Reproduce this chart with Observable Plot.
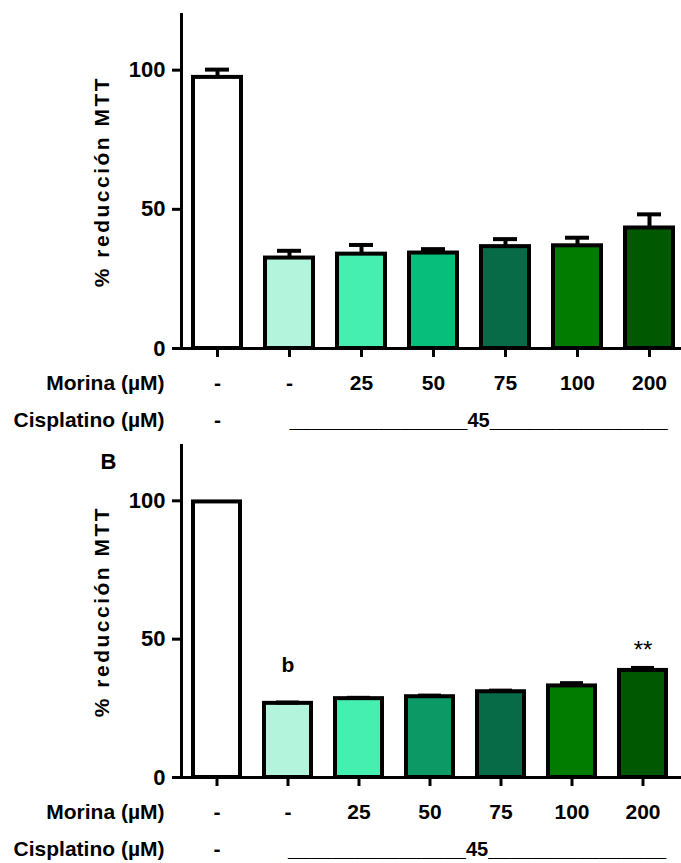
<!DOCTYPE html>
<html>
<head>
<meta charset="utf-8">
<script src="https://cdn.jsdelivr.net/npm/d3@7"></script>
<script src="https://cdn.jsdelivr.net/npm/@observablehq/plot@0.6"></script>
<style>
  html, body { margin: 0; padding: 0; background: #fff; }
  #chart { width: 681px; }
  #chart svg { display: block; }
</style>
</head>
<body>
<div id="chart"></div>
<script>
// ---- data ----
const groups = ["ctrl", "cis", "m25", "m50", "m75", "m100", "m200"];
const morinaLabels = ["-", "-", "25", "50", "75", "100", "200"];
const cisplatinoControl = "-";
const cisplatinoDose = "________________45________________";
const yTicks = [0, 50, 100];
const yTitle = "% reducción MTT";
const rowLabelMorina = "Morina (µM)";
const rowLabelCis = "Cisplatino (µM)";

const meansA = [97.4, 32.5, 33.9, 34.3, 36.6, 36.9, 43.3];
const errsA  = [2.8, 2.6, 3.3, 1.4, 2.7, 2.9, 4.9];
const colorsA = ["#ffffff", "#b3f5dc", "#44efb0", "#07bf7b", "#066b46", "#017c01", "#005800"];

const meansB = [99.6, 26.8, 28.5, 29.2, 31.0, 33.1, 38.7];
const errsB  = [0, 0.3, 0.3, 0.4, 0.4, 1.0, 0.9];
const colorsB = ["#ffffff", "#b3f5dc", "#44efb0", "#0d9966", "#066b46", "#017c01", "#005800"];

const FONT = "'Liberation Sans', Arial, Helvetica, sans-serif";

function panel({means, errs, colors, height, marginTop, marginBottom, xEnd, letter, annotations}) {
  const data = groups.map((g, i) => ({key: g, mean: means[i], err: errs[i], color: colors[i], morina: morinaLabels[i]}));
  const marks = [
    Plot.frame({anchor: "left", strokeWidth: 3, stroke: "black"}),
    Plot.ruleY([0], {strokeWidth: 3, insetLeft: -9}),
    Plot.axisY({ticks: yTicks, tickSize: 9, tickPadding: 7, strokeWidth: 3, fontSize: 22, fontWeight: "bold", label: null}),
    Plot.axisX({tickSize: 9, strokeWidth: 3, tickFormat: () => "", label: null}),
    Plot.barY(data, {x: "key", y: "mean", fill: "color", stroke: "black", strokeWidth: 4}),
    Plot.ruleX(data.filter(d => d.err > 0), {x: "key", y1: "mean", y2: d => d.mean + d.err, strokeWidth: 4}),
    Plot.tickY(data.filter(d => d.err > 0), {x: "key", y: d => d.mean + d.err, strokeWidth: 4, inset: 12}),
    Plot.text([yTitle], {frameAnchor: "left", dx: -79, rotate: -90, fontSize: 21, fontWeight: "bold", lineAnchor: "middle", textAnchor: "middle"}),
    Plot.text(data, {x: "key", text: "morina", frameAnchor: "bottom", dy: 35, fontSize: 21, fontWeight: "bold", lineAnchor: "middle"}),
    Plot.text([rowLabelMorina], {frameAnchor: "bottom-left", dx: -17, dy: 35, textAnchor: "end", fontSize: 21, fontWeight: "bold", lineAnchor: "middle"}),
    Plot.text([rowLabelCis], {frameAnchor: "bottom-left", dx: -17, dy: 72, textAnchor: "end", fontSize: 21, fontWeight: "bold", lineAnchor: "middle"}),
    Plot.text([groups[0]], {x: d => d, text: () => cisplatinoControl, frameAnchor: "bottom", dy: 72, fontSize: 21, fontWeight: "bold", lineAnchor: "middle"}),
    Plot.text([groups[1]], {x: d => d, text: () => cisplatinoDose, frameAnchor: "bottom", dy: 72, textAnchor: "start", fontSize: 20, fontWeight: "bold", lineAnchor: "middle"})
  ];
  if (letter) {
    marks.push(Plot.text([letter], {frameAnchor: "top-left", dx: -81, dy: 16, fontSize: 22, fontWeight: "bold", lineAnchor: "middle"}));
  }
  for (const a of (annotations || [])) {
    const d = data[groups.indexOf(a.key)];
    marks.push(Plot.text([d], {x: "key", y: v => v.mean + v.err, text: () => a.text, dy: a.dy, fontSize: a.size, fontWeight: a.weight, lineAnchor: "middle"}));
  }
  const svg = Plot.plot({
    width: 681,
    height,
    marginLeft: 181,
    marginRight: 0,
    marginTop,
    marginBottom,
    style: {fontFamily: FONT, color: "black", background: "white", overflow: "visible"},
    x: {domain: groups, range: [181, xEnd], paddingInner: 0.34, paddingOuter: 0.17, axis: null},
    y: {domain: [0, 120], axis: null},
    marks
  });
  d3.select(svg).selectAll("text").filter(function() { return this.textContent === yTitle; })
    .attr("letter-spacing", "2.5px");
  return svg;
}

const chart = document.getElementById("chart");
chart.appendChild(panel({means: meansA, errs: errsA, colors: colorsA, height: 432, marginTop: 14, marginBottom: 84, xEnd: 685}));
chart.appendChild(panel({means: meansB, errs: errsB, colors: colorsB, height: 431, marginTop: 13, marginBottom: 86, xEnd: 678, letter: "B",
  annotations: [
    {key: "cis", text: "b", dy: -37, size: 21, weight: "bold"},
    {key: "m200", text: "**", dy: -18, size: 24, weight: "normal"}
  ]}));
</script>
</body>
</html>
